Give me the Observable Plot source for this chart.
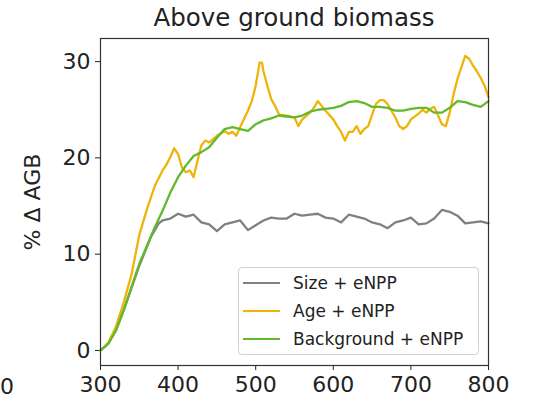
<!DOCTYPE html>
<html><head><meta charset="utf-8">
<script src="https://cdn.jsdelivr.net/npm/d3@7"></script>
<script src="https://cdn.jsdelivr.net/npm/@observablehq/plot@0.6"></script>
<style>
body{margin:0;background:#fff;font-family:"DejaVu Sans",sans-serif;}
#wrap{position:relative;width:545px;height:403px;overflow:hidden;}
#title{position:absolute;left:100px;width:388px;top:3px;text-align:center;font-size:24.5px;color:#222;}
#stray{position:absolute;left:0px;top:374px;font-size:22px;color:#222;white-space:nowrap;}
#legend{position:absolute;left:238px;top:267px;width:241px;height:88px;border:1px solid #d0d0d0;border-radius:4px;background:rgba(255,255,255,0.85);box-sizing:border-box;}
.row{position:absolute;left:4px;height:20px;font-size:17px;color:#222;display:flex;align-items:center;}
.sw{width:37px;height:0;border-top:2.5px solid;margin-right:13px;}
</style></head>
<body><div id="wrap"><div id="title">Above ground biomass</div><div id="stray">0</div></div>
<script>
const seriesNames = ["Size + eNPP", "Age + eNPP", "Background + eNPP"];
const seriesColors = ["#808080", "#efb409", "#62b92c"];

const sizeT = [300,310,320,330,340,350,360,365,370,375,380,390,400,410,420,430,440,450,460,470,480,490,500,510,520,530,540,550,560,570,580,590,600,610,620,630,640,650,660,670,680,690,700,710,720,730,740,750,760,770,780,790,800];
const sizeV = [0,0.7,2.1,4.2,6.5,8.8,10.8,11.8,12.5,13.2,13.5,13.7,14.2,13.9,14.1,13.3,13.1,12.4,13.1,13.3,13.5,12.5,13.0,13.5,13.8,13.7,13.7,14.2,14.0,14.1,14.2,13.8,13.7,13.3,14.1,13.9,13.7,13.3,13.1,12.7,13.3,13.5,13.8,13.1,13.2,13.7,14.6,14.4,14.0,13.2,13.3,13.4,13.2];

const ageT = [300,310,320,330,340,350,360,370,380,385,390,395,400,405,410,415,420,425,430,435,440,450,460,465,470,475,480,490,495,500,505,508,510,515,520,525,530,540,550,555,560,570,575,580,585,590,600,605,610,615,620,625,630,635,640,645,650,655,660,665,670,675,680,685,690,695,700,710,715,720,725,730,735,740,745,750,755,760,765,770,775,780,785,790,795,800];
const ageV = [0,0.8,2.5,5.0,7.9,12.0,14.7,17.1,18.7,19.3,20.1,21.0,20.4,19.0,18.5,18.7,18.0,19.7,21.3,21.8,21.6,22.3,22.8,22.5,22.7,22.3,23.2,24.9,25.9,27.5,29.9,29.9,29.0,27.5,26.1,25.4,24.5,24.4,24.2,23.3,24.0,24.7,25.2,25.9,25.4,24.9,24.0,23.3,22.7,21.8,22.7,22.7,23.3,22.5,23.0,23.3,24.5,25.6,26.0,26.0,25.6,24.9,24.2,23.3,23.0,23.3,24.0,24.6,25.0,24.7,25.1,25.3,24.4,23.5,23.3,24.7,26.6,28.2,29.4,30.6,30.3,29.6,29.0,28.3,27.5,26.3];

const bgT = [300,310,320,330,340,350,360,370,380,390,400,410,420,430,440,450,460,470,480,490,500,510,520,530,540,550,560,570,580,590,600,610,620,630,640,650,660,670,680,690,700,710,720,730,740,750,760,770,780,790,800];
const bgV = [0,0.7,2.1,4.2,6.6,9.0,10.9,12.8,14.5,16.4,18.0,19.2,20.2,20.6,21.1,22.1,23.0,23.2,23.0,22.8,23.5,23.9,24.1,24.4,24.3,24.2,24.4,24.8,25.0,25.1,25.2,25.4,25.8,25.9,25.7,25.3,25.3,25.2,24.9,24.9,25.1,25.2,25.2,24.7,24.7,25.2,25.9,25.8,25.5,25.3,25.9];

const yTicks = [0, 10, 20, 30];
const xTicks = [300, 400, 500, 600, 700, 800];

const data = [];
sizeT.forEach((t, i) => data.push({t, v: sizeV[i], s: seriesNames[0]}));
ageT.forEach((t, i) => data.push({t, v: ageV[i], s: seriesNames[1]}));
bgT.forEach((t, i) => data.push({t, v: bgV[i], s: seriesNames[2]}));

const chart = Plot.plot({
  width: 545, height: 403,
  marginLeft: 100, marginRight: 57, marginTop: 38, marginBottom: 38,
  style: {fontFamily: "DejaVu Sans, sans-serif", fontSize: "22px", color: "#222", background: "transparent"},
  x: {domain: [300, 800], ticks: xTicks, tickSize: 5, tickPadding: 6, label: null},
  y: {domain: [-1.56, 32.4], ticks: yTicks, tickSize: 5, tickPadding: 5, label: "% Δ AGB", labelAnchor: "center", labelArrow: "none", labelOffset: 76},
  color: {domain: seriesNames, range: seriesColors},
  marks: [
    Plot.lineY(data, {x: "t", y: "v", z: "s", stroke: "s", strokeWidth: 2.3, curve: "linear"}),
    Plot.frame({stroke: "#333", strokeWidth: 1.2})
  ]
});
const wrap = document.getElementById("wrap");
chart.style.position = "absolute";
chart.style.left = "0"; chart.style.top = "0";
wrap.insertBefore(chart, wrap.firstChild);

const leg = document.createElement("div");
leg.id = "legend";
seriesNames.forEach((n, i) => {
  const r = document.createElement("div");
  r.className = "row";
  r.style.top = (5 + i * 27.8) + "px";
  r.innerHTML = `<span class="sw" style="border-color:${seriesColors[i]}"></span><span>${n}</span>`;
  leg.appendChild(r);
});
wrap.appendChild(leg);
</script></body></html>
